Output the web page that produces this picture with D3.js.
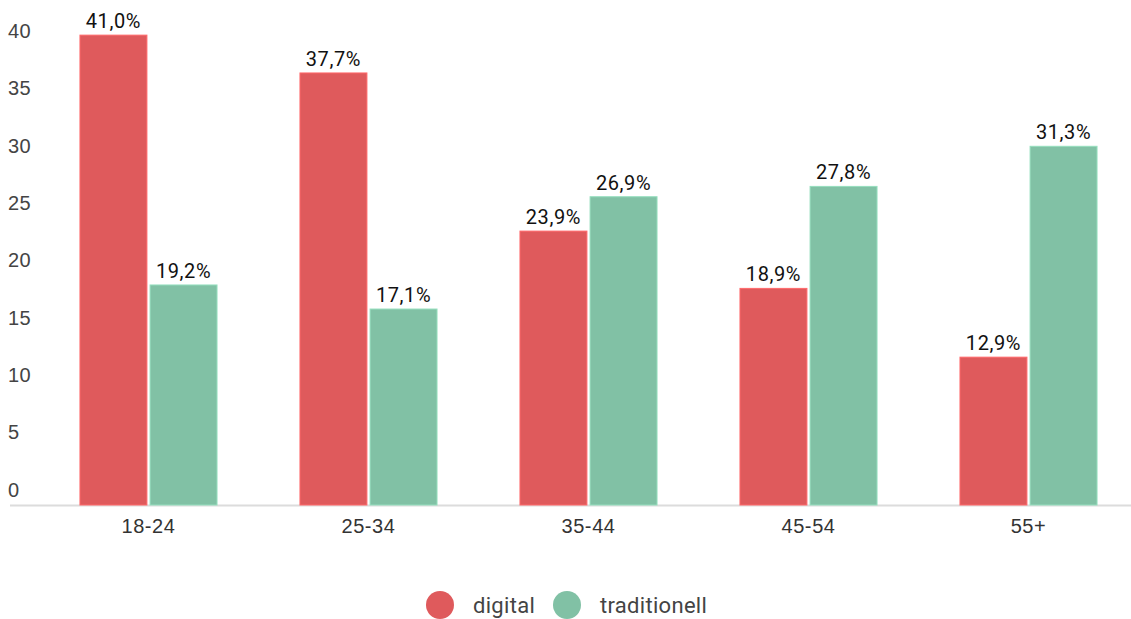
<!DOCTYPE html>
<html><head><meta charset="utf-8">
<script src="https://cdn.jsdelivr.net/npm/d3@7"></script>
<style>
body{margin:0;background:#fff;}
svg{font-family:Roboto,"Noto Sans",sans-serif;}
</style></head>
<body><svg id="c" width="1131" height="619"></svg>
<script>
const categories = ["18-24","25-34","35-44","45-54","55+"];
const seriesNames = ["digital","traditionell"];
const digital = [41.0, 37.7, 23.9, 18.9, 12.9];
const traditionell = [19.2, 17.1, 26.9, 27.8, 31.3];
const yTicks = [0,5,10,15,20,25,30,35,40];
const colors = ["#df5a5c","#81c1a5"];

const svg = d3.select("#c");
const y = d3.scaleLinear().domain([0,41]).range([505, 505-11.46*41]);
const x = d3.scaleBand().domain(categories).range([10,1167]).paddingInner(0.377).paddingOuter(0.318);
const xs = d3.scaleBand().domain(seriesNames).range([0,x.bandwidth()]).paddingInner(0.045);
const fmt = v => d3.format(".1f")(v).replace(".",",") + "%";

// baseline
svg.append("line").attr("x1",10).attr("x2",1131).attr("y1",y(0)+0.5).attr("y2",y(0)+0.5)
  .attr("stroke","#dcdcdc").attr("stroke-width",2);

// y axis
const yAxis = svg.append("g").attr("transform","translate(10,0)")
  .call(d3.axisRight(y).tickValues(yTicks).tickSize(0).tickFormat(d3.format("d")));
yAxis.select(".domain").remove();
yAxis.selectAll("text").attr("x",-2).attr("dy","-0.45em").attr("text-anchor","start")
  .attr("fill","#444").style("font-size","20px").style("letter-spacing","0.5px");

// x axis
const xAxis = svg.append("g").attr("transform",`translate(0,${y(0)})`)
  .call(d3.axisBottom(x).tickSize(0));
xAxis.select(".domain").remove();
xAxis.selectAll("text").attr("y",14).attr("dy","0.71em").attr("fill","#333")
  .style("font-size","20px").style("letter-spacing","0.6px");

const data = categories.map((c,i)=>({c, vals:[digital[i], traditionell[i]]}));
const g = svg.selectAll("g.grp").data(data).join("g").attr("class","grp")
  .attr("transform",d=>`translate(${x(d.c)},0)`);
g.selectAll("rect").data(d=>d.vals.map((v,j)=>({v,s:seriesNames[j],j}))).join("rect")
  .attr("x",d=>xs(d.s)).attr("width",xs.bandwidth())
  .attr("y",d=>y(d.v)).attr("height",d=>y(0)-y(d.v))
  .attr("fill",d=>colors[d.j]).attr("stroke",d=>d3.color(colors[d.j]).brighter(0.4)).attr("stroke-width",1);
g.selectAll("text.val").data(d=>d.vals.map((v,j)=>({v,s:seriesNames[j],j}))).join("text").attr("class","val")
  .attr("x",d=>xs(d.s)+xs.bandwidth()/2).attr("y",d=>y(d.v)-7)
  .attr("text-anchor","middle").attr("fill","#111").style("font-size","20px").style("letter-spacing","0.6px")
  .text(d=>fmt(d.v));

// legend
const legendX = [440, 567];
const lg = svg.selectAll("g.leg").data(seriesNames).join("g").attr("class","leg")
  .attr("transform",(d,i)=>`translate(${legendX[i]},605)`);
lg.append("circle").attr("r",14).attr("fill",(d,i)=>colors[i]);
lg.append("text").attr("x",33).attr("dy","0.35em").attr("fill","#444").style("font-size","22px").style("letter-spacing","0.3px").text(d=>d);
</script></body></html>
